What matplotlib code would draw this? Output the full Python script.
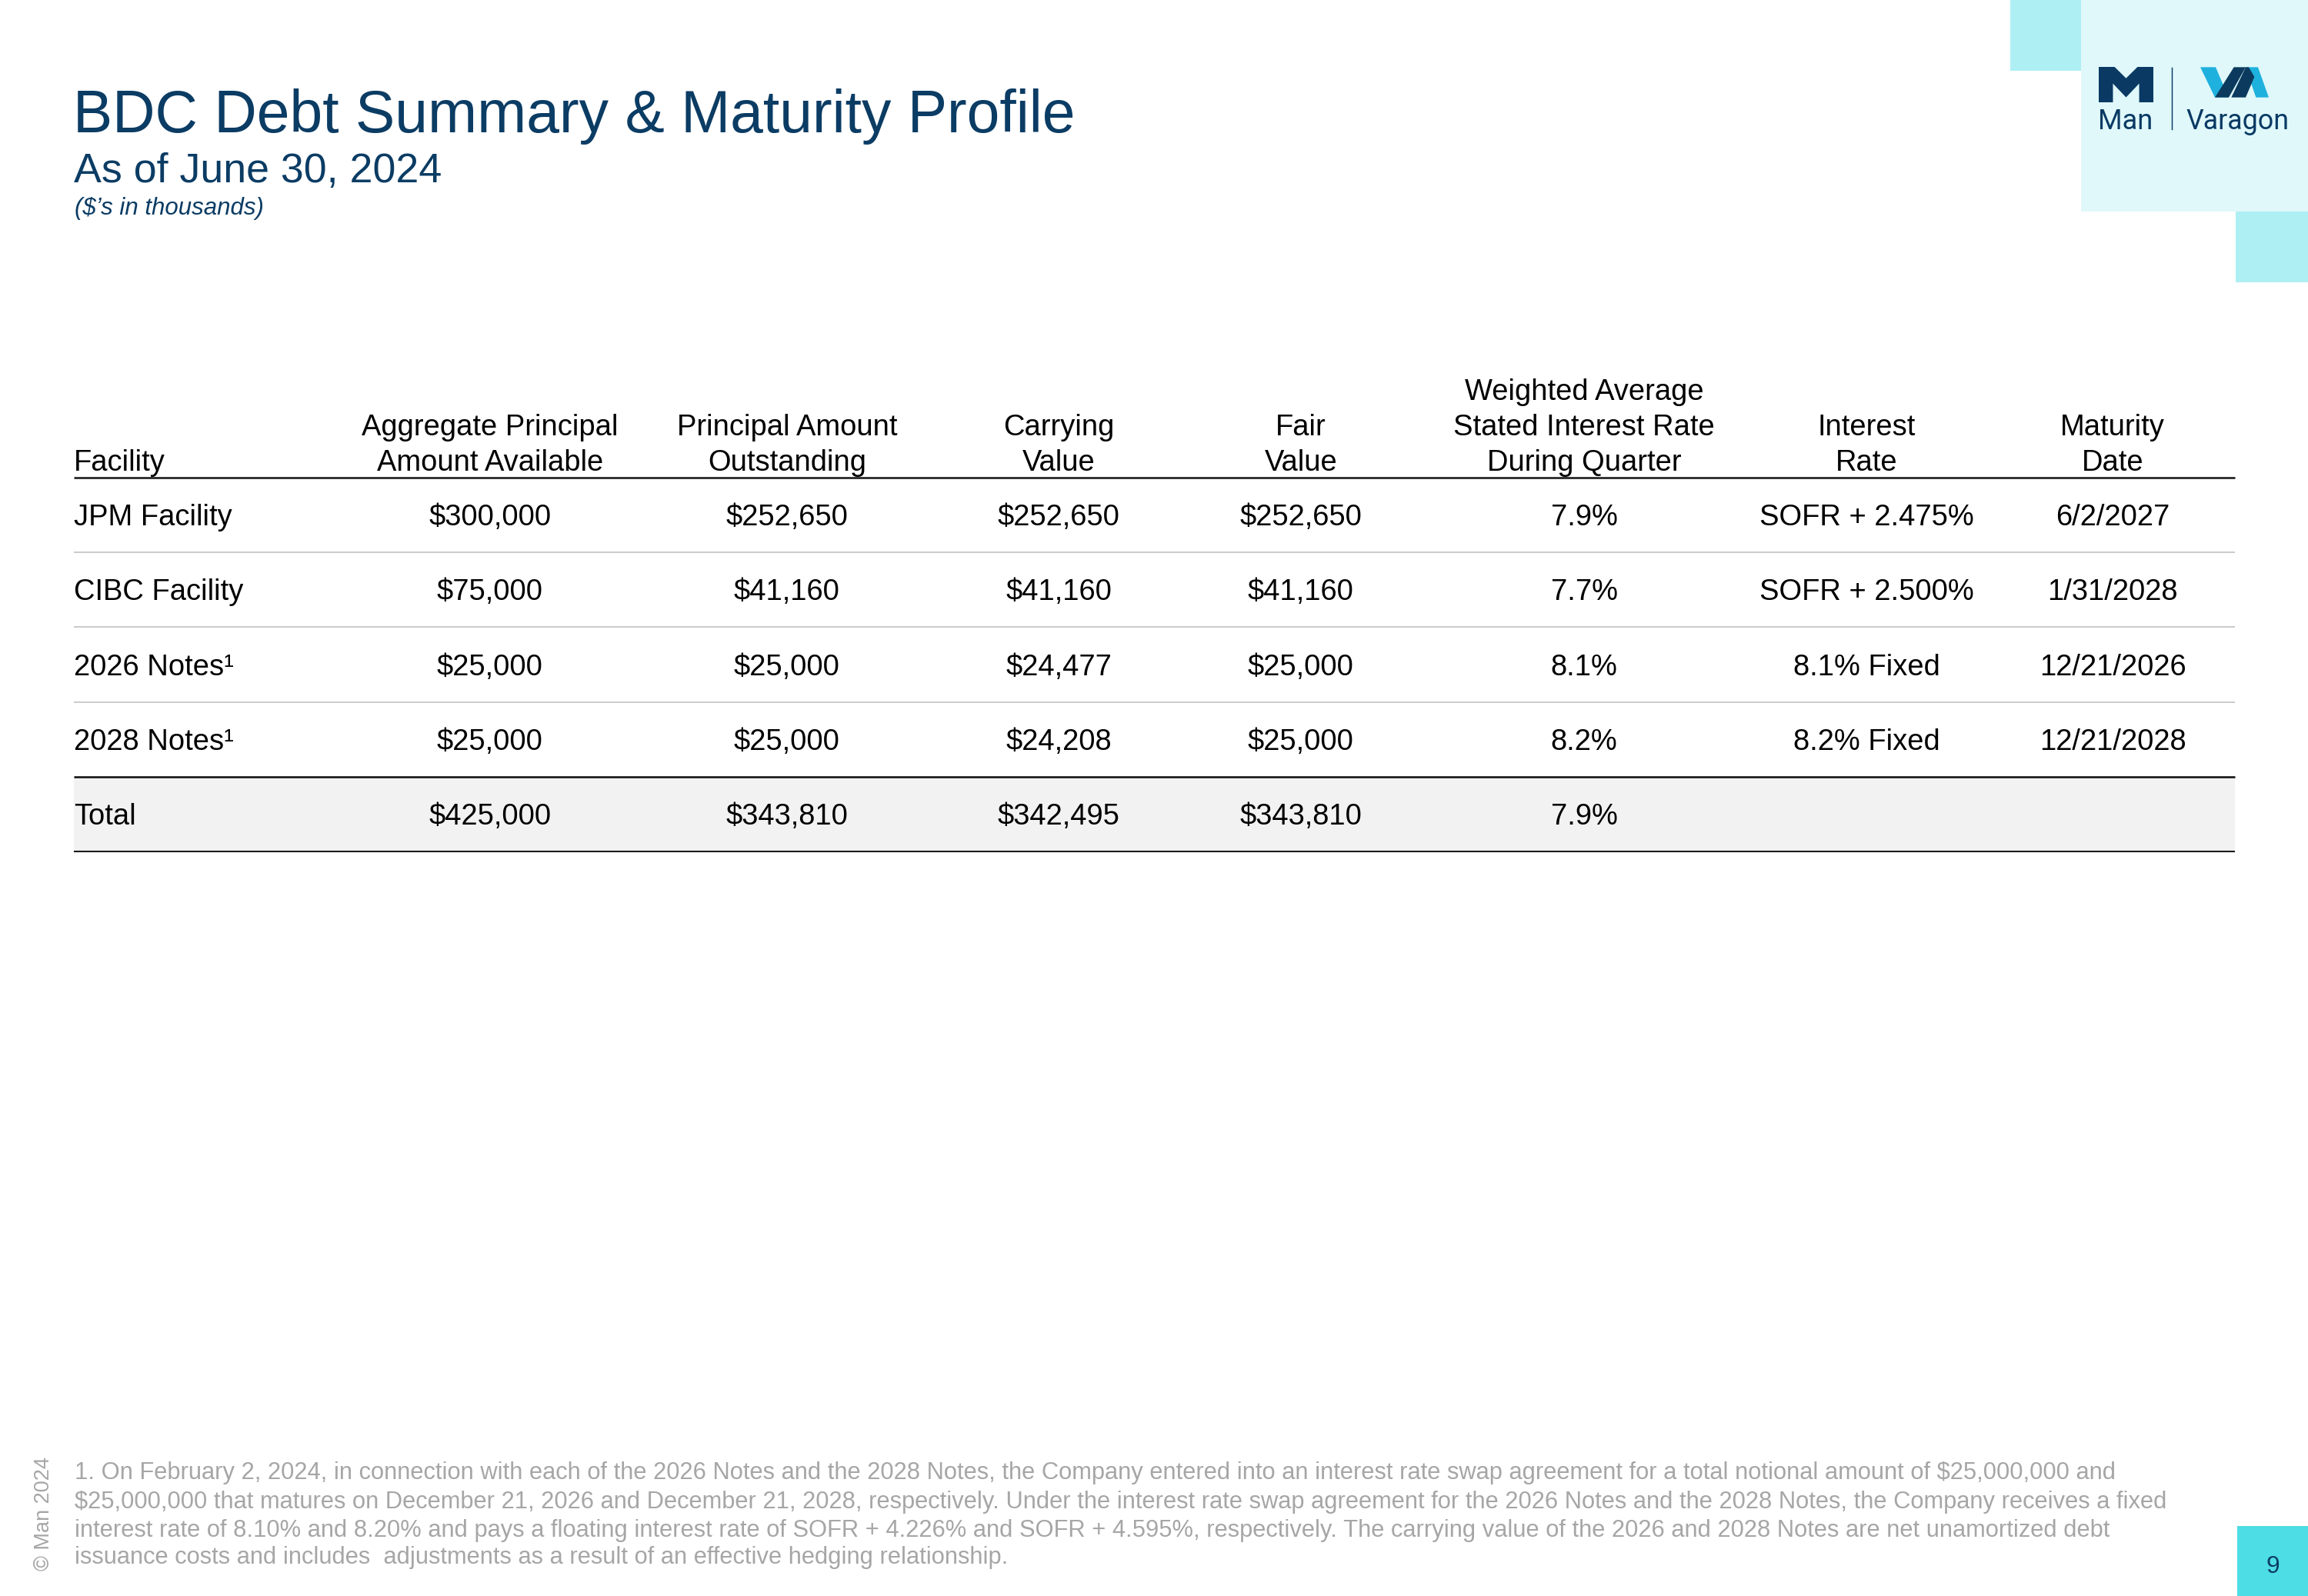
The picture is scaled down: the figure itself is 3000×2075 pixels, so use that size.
import matplotlib
matplotlib.use("Agg")
import matplotlib.pyplot as plt
from matplotlib.patches import Rectangle, Polygon

# ---------------- data ----------------
facilities = ["JPM Facility", "CIBC Facility", "2026 Notes¹", "2028 Notes¹"]
aggregate_available = [300000, 75000, 25000, 25000]
principal_outstanding = [252650, 41160, 25000, 25000]
carrying_value = [252650, 41160, 24477, 24208]
fair_value = [252650, 41160, 25000, 25000]
weighted_rate = [7.9, 7.7, 8.1, 8.2]
interest_rate = ["SOFR + 2.475%", "SOFR + 2.500%", "8.1% Fixed", "8.2% Fixed"]
maturity_date = ["6/2/2027", "1/31/2028", "12/21/2026", "12/21/2028"]

total_label = "Total"
total_aggregate = 425000
total_principal = 343810
total_carrying = 342495
total_fair = 343810
total_rate = 7.9

headers = [
    "Facility",
    "Aggregate Principal\nAmount Available",
    "Principal Amount\nOutstanding",
    "Carrying\nValue",
    "Fair\nValue",
    "Weighted Average\nStated Interest Rate\nDuring Quarter",
    "Interest\nRate",
    "Maturity\nDate",
]

title = "BDC Debt Summary & Maturity Profile"
subtitle = "As of June 30, 2024"
units_note = "($\u2019s in thousands)"
footnote_lines = [
    "1. On February 2, 2024, in connection with each of the 2026 Notes and the 2028 Notes, the Company entered into an interest rate swap agreement for a total notional amount of $25,000,000 and",
    "$25,000,000 that matures on December 21, 2026 and December 21, 2028, respectively. Under the interest rate swap agreement for the 2026 Notes and the 2028 Notes, the Company receives a fixed",
    "interest rate of 8.10% and 8.20% and pays a floating interest rate of SOFR + 4.226% and SOFR + 4.595%, respectively. The carrying value of the 2026 and 2028 Notes are net unamortized debt",
    "issuance costs and includes  adjustments as a result of an effective hedging relationship.",
]
copyright_text = "© Man 2024"
page_number = "9"

# ---------------- style / layout ----------------
W, H = 3000, 2075
DPI = 300
NAVY = "#0B3C64"
GREY_TXT = "#A6A6A6"
FONT = ["Liberation Sans", "DejaVu Sans"]

fig = plt.figure(figsize=(W / DPI, H / DPI), dpi=DPI)
ax = fig.add_axes([0, 0, 1, 1])
ax.set_xlim(0, W)
ax.set_ylim(H, 0)
ax.axis("off")


def txt(x, y, s, size, color="black", ha="left", va="baseline", **kw):
    ax.text(x, y, s, fontsize=size, color=color, ha=ha, va=va,
            family=kw.pop("family", FONT), parse_math=False, **kw)


# Title block
txt(95, 172, title, 18.45, NAVY)
txt(96, 237, subtitle, 12.9, NAVY)
txt(97, 279, units_note, 7.5, NAVY, style="italic")

# Table
left, right = 96, 2905
col_x = [96, 637, 1023, 1376, 1691, 2059, 2426, 2746]
header_bottom_baseline = 612
header_line_gap = 46
row_edges = [621, 718, 815, 913, 1010, 1107]
TS = 9.15
cap_half = 13.6


def money(v):
    return f"${v:,.0f}"


rows = []
for i in range(len(facilities)):
    rows.append([facilities[i], money(aggregate_available[i]), money(principal_outstanding[i]),
                 money(carrying_value[i]), money(fair_value[i]), f"{weighted_rate[i]:.1f}%",
                 interest_rate[i], maturity_date[i]])
rows.append([total_label, money(total_aggregate), money(total_principal), money(total_carrying),
             money(total_fair), f"{total_rate:.1f}%", "", ""])

# total band
ax.add_patch(Rectangle((left, row_edges[4]), right - left, row_edges[5] - row_edges[4],
                       facecolor="#F2F2F2", edgecolor="none", zorder=0))

# headers
for j, h in enumerate(headers):
    lines = h.split("\n")
    for k, line in enumerate(reversed(lines)):
        txt(col_x[j], header_bottom_baseline - k * header_line_gap, line, TS,
            ha="left" if j == 0 else "center")

# rows
for i, r in enumerate(rows):
    yc = (row_edges[i] + row_edges[i + 1]) / 2 + cap_half
    for j, cell in enumerate(r):
        txt(col_x[j], yc, cell, TS, ha="left" if j == 0 else "center")

# rules
ax.plot([left, right], [row_edges[0]] * 2, color="#1A1A1A", lw=0.62, solid_capstyle="butt")
for y in row_edges[1:4]:
    ax.plot([left, right], [y, y], color="#C8C8C8", lw=0.45, solid_capstyle="butt")
ax.plot([left, right], [row_edges[4]] * 2, color="#111111", lw=0.62, solid_capstyle="butt")
ax.plot([left, right], [row_edges[5]] * 2, color="#1A1A1A", lw=0.5, solid_capstyle="butt")

# Footnote
fn_baselines = [1923, 1961, 1998, 2033]
for y, line in zip(fn_baselines, footnote_lines):
    txt(97, y, line, 7.42, GREY_TXT)

txt(57, 1968, copyright_text, 6.5, GREY_TXT, ha="center", va="center", rotation=90)

# Page number box
ax.add_patch(Rectangle((2908, 1984), W - 2908, H - 1984, facecolor="#4DDDE4", edgecolor="none"))
txt(2954, 2045, page_number, 7.6, NAVY, ha="center")

# Logo area
ax.add_patch(Rectangle((2705, 0), W - 2705, 275, facecolor="#E0F8FA", edgecolor="none"))
ax.add_patch(Rectangle((2613, 0), 92, 92, facecolor="#AEEFF3", edgecolor="none"))
ax.add_patch(Rectangle((2906, 275), W - 2906, 92, facecolor="#AEEFF3", edgecolor="none"))

# "M" mark
mx0, my0, mw, mh = 2728, 87, 71, 46
m_shape = [(0, 0), (0.29, 0), (0.5, 0.32), (0.71, 0), (1, 0), (1, 1), (0.74, 1), (0.74, 0.47),
           (0.5, 0.86), (0.26, 0.47), (0.26, 1), (0, 1)]
ax.add_patch(Polygon([(mx0 + u * mw, my0 + v * mh) for u, v in m_shape], closed=True,
                     facecolor="#0A3A64", edgecolor="none"))
txt(2727, 168, "Man", 8.7, "#0A3A64", family=["Roboto", "Liberation Sans"])
ax.plot([2823, 2823], [88, 168], color="#0A3A64", lw=0.35)

# "VA" mark (zoom coords -> px)
def zp(x, y):
    return (2715 + x / 3, 75 + y / 3)

LB = "#1FB1DE"
DN = "#0B3A5E"
shapes = [
    ([(435, 37), (495, 37), (545, 155), (492, 155)], LB),
    ([(492, 155), (546, 155), (612, 37), (566, 37)], DN),
    ([(612, 37), (660, 37), (702, 155), (652, 155)], LB),
    ([(556, 155), (612, 155), (646, 75), (624, 37), (612, 37)], DN),
]
for pts, c in shapes:
    ax.add_patch(Polygon([zp(*p) for p in pts], closed=True, facecolor=c, edgecolor="none"))
txt(2842, 168, "Varagon", 8.6, "#0A3A64", family=["Roboto", "Liberation Sans"])

fig.savefig("out.png", dpi=DPI)
